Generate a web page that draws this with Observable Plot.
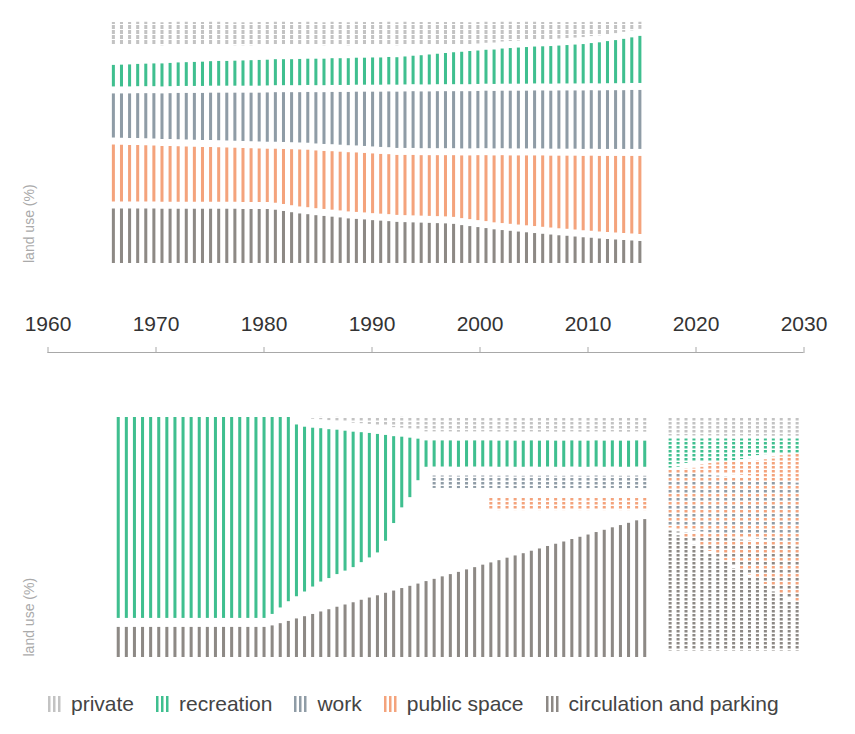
<!DOCTYPE html>
<html><head><meta charset="utf-8">
<script src="https://cdn.jsdelivr.net/npm/d3@7"></script>
<script src="https://cdn.jsdelivr.net/npm/@observablehq/plot@0.6"></script>
<style>
body{margin:0;background:#fff;font-family:"Liberation Sans",Arial,Helvetica,sans-serif;}
#chart{position:relative;width:855px;height:734px;overflow:hidden;}
.panel{position:absolute;left:0;}
.legend{position:absolute;left:48px;top:692px;display:flex;align-items:center;font-size:21px;color:#444;white-space:nowrap;}
.legend .item{display:flex;align-items:center;margin-right:22px;}
.legend svg{margin-right:10px;}
</style>
</head><body>
<div id="chart"></div>
<script>
// ---------- categories & ticks ----------
const PRIV = "private", REC = "recreation", WORK = "work", PUB = "public space", CIRC = "circulation and parking", OTHER = "other";
const legendCategories = [PRIV, REC, WORK, PUB, CIRC];
const palette = ["#c3c3c3", "#3fbf8f", "#8f9ca6", "#f4a37c", "#8d8985"];
const tickYears = [1960, 1970, 1980, 1990, 2000, 2010, 2020, 2030];
const yLabel = "land use (%)";

// ---------- top panel (land use %, one bar per survey) ----------
const topYears = [1966.10,1966.85,1967.60,1968.35,1969.10,1969.85,1970.60,1971.35,1972.10,1972.85,
1973.60,1974.35,1975.10,1975.85,1976.60,1977.35,1978.10,1978.85,1979.60,1980.35,
1981.10,1981.85,1982.60,1983.35,1984.10,1984.85,1985.60,1986.35,1987.10,1987.85,
1988.60,1989.35,1990.10,1990.85,1991.60,1992.35,1993.10,1993.85,1994.60,1995.35,
1996.10,1996.85,1997.60,1998.35,1999.10,1999.85,2000.60,2001.35,2002.10,2002.85,
2003.60,2004.35,2005.10,2005.85,2006.60,2007.35,2008.10,2008.85,2009.60,2010.35,
2011.10,2011.85,2012.60,2013.35,2014.10,2014.85];
const topPrivate = [12.1,12.1,12.1,12.1,12.1,12.1,12.1,12.1,12.1,12.1,
12.1,12.1,12.1,12.1,12.1,12.1,12.1,12.1,12.1,12.1,
12.1,12.1,12.1,12.1,12.1,12.1,12.1,12.1,12.1,12.1,
12.1,12.1,12.1,12.1,12.1,12.1,12.1,12.0,12.0,11.9,
11.9,11.8,11.7,11.7,11.6,11.5,11.3,11.1,10.8,10.6,
10.3,10.2,10.0,9.8,9.7,9.5,9.3,9.1,8.9,8.6,
8.2,7.7,7.3,6.8,6.2,5.7];
const topOther = [5.2,5.1,5.0,4.9,4.8,4.6,4.5,4.4,4.3,4.2,
4.0,3.9,3.8,3.7,3.6,3.4,3.3,3.2,3.2,3.1,
3.0,3.0,2.9,2.8,2.8,2.7,2.6,2.6,2.5,2.4,
2.4,2.3,2.2,2.2,2.1,2.0,1.9,1.6,1.4,1.2,
0.9,0.7,0.5,0.3,0,0,0,0,0,0,
0,0,0,0,0,0,0,0,0,0,
0,0,0,0,0,0];
const topRecreation = [11.5,11.6,11.7,11.8,11.9,12.0,12.1,12.2,12.3,12.4,
12.5,12.6,12.7,12.8,12.8,12.9,13.0,13.1,13.2,13.2,
13.3,13.3,13.3,13.4,13.4,13.5,13.5,13.6,13.6,13.6,
13.7,13.7,13.8,13.8,13.9,13.9,14.1,14.3,14.6,14.9,
15.1,15.4,15.7,15.9,16.2,16.3,16.5,16.7,17.0,17.2,
17.4,17.6,17.7,17.8,18.0,18.1,18.3,18.5,18.7,19.0,
19.4,19.8,20.2,20.7,21.2,21.8];
const topWork = [20.6,20.7,20.8,20.9,21.0,21.1,21.2,21.3,21.5,21.6,
21.7,21.8,21.9,22.0,22.1,22.2,22.3,22.4,22.5,22.7,
22.8,22.9,23.0,23.1,23.3,23.5,23.7,23.9,24.1,24.3,
24.5,24.7,24.9,25.1,25.3,25.5,25.6,25.7,25.7,25.7,
25.8,25.8,25.8,25.9,25.9,25.9,26.0,26.0,26.0,26.1,
26.1,26.1,26.2,26.2,26.2,26.3,26.3,26.3,26.4,26.4,
26.4,26.5,26.5,26.5,26.6,26.6];
const topPublic = [25.8,25.7,25.6,25.6,25.5,25.4,25.3,25.3,25.2,25.1,
25.0,24.9,24.9,24.8,24.7,24.6,24.6,24.5,24.4,24.3,
24.6,25.0,25.4,25.8,26.0,26.1,26.2,26.4,26.5,26.7,
26.8,26.8,26.9,26.9,27.0,27.0,27.1,27.2,27.2,27.3,
27.4,27.5,27.7,28.1,28.5,29.0,29.4,29.8,30.2,30.4,
30.7,31.0,31.3,31.6,31.8,32.1,32.3,32.6,32.8,33.1,
33.3,33.5,33.7,33.9,34.1,34.3];
const topCirculation = [24.8,24.8,24.8,24.8,24.8,24.8,24.7,24.7,24.7,24.7,
24.7,24.7,24.7,24.7,24.7,24.7,24.6,24.6,24.6,24.6,
24.3,23.8,23.3,22.8,22.5,22.1,21.8,21.5,21.2,20.8,
20.6,20.4,20.1,19.9,19.7,19.4,19.3,19.2,19.1,19.0,
18.9,18.8,18.6,18.1,17.7,17.3,16.9,16.4,16.1,15.8,
15.5,15.2,14.9,14.6,14.3,14.0,13.8,13.5,13.2,13.0,
12.7,12.5,12.3,12.1,11.9,11.7];

// ---------- bottom panel ----------
const bottomYears = [1966.55,1967.30,1968.05,1968.80,1969.55,1970.30,1971.05,1971.80,1972.55,1973.30,
1974.05,1974.80,1975.55,1976.30,1977.05,1977.80,1978.55,1979.30,1980.05,1980.80,
1981.55,1982.30,1983.05,1983.80,1984.55,1985.30,1986.05,1986.80,1987.55,1988.30,
1989.05,1989.80,1990.55,1991.30,1992.05,1992.80,1993.55,1994.30,1995.05,1995.80,
1996.55,1997.30,1998.05,1998.80,1999.55,2000.30,2001.05,2001.80,2002.55,2003.30,
2004.05,2004.80,2005.55,2006.30,2007.05,2007.80,2008.55,2009.30,2010.05,2010.80,
2011.55,2012.30,2013.05,2013.80,2014.55,2015.30];
const bottomPrivate = [0,0,0,0,0,0,0,0,0,0,
0,0,0,0,0,0,0,0,0,0,
0,0,3.0,3.9,4.3,4.6,4.9,5.2,5.5,5.8,
6.1,6.4,6.8,7.2,7.6,8.0,8.3,8.7,9.4,9.4,
9.4,9.4,9.4,9.4,9.4,9.4,9.4,9.4,9.4,9.4,
9.4,9.4,9.4,9.4,9.4,9.4,9.4,9.4,9.4,9.4,
9.4,9.4,9.4,9.4,9.4,9.4];
const bottomRecreation = [84.3,84.3,84.3,84.3,84.3,84.3,84.3,84.3,84.3,84.3,
84.3,84.3,84.3,84.3,84.3,84.3,84.3,84.3,84.3,82.7,
80.1,77.6,72.6,69.8,67.4,65.2,63.4,61.6,59.8,58.0,
55.8,53.6,51.2,46.1,38.5,32.0,27.5,20.3,14.2,14.1,
14.1,14.1,14.1,14.1,14.1,14.1,14.1,14.1,14.1,14.1,
14.1,14.1,14.1,14.1,14.1,14.1,14.1,14.1,14.1,14.1,
14.1,14.1,14.1,14.1,14.1,14.1];
const bottomWork = [0,0,0,0,0,0,0,0,0,0,
0,0,0,0,0,0,0,0,0,0,
0,0,0,0,0,0,0,0,0,0,
0,0,0,0,0,0,0,0,0,8.6,
8.6,8.6,8.6,8.6,8.6,8.6,8.6,8.6,8.6,8.6,
8.6,8.6,8.6,8.6,8.6,8.6,8.6,8.6,8.6,8.6,
8.6,8.6,8.6,8.6,8.6,8.6];
const bottomPublic = [0,0,0,0,0,0,0,0,0,0,
0,0,0,0,0,0,0,0,0,0,
0,0,0,0,0,0,0,0,0,0,
0,0,0,0,0,0,0,0,0,0,
0,0,0,0,0,0,8.8,8.8,8.8,8.8,
8.8,8.8,8.8,8.8,8.8,8.8,8.8,8.8,8.8,8.8,
8.8,8.8,8.8,8.8,8.8,8.8];
const bottomOther = [0,0,0,0,0,0,0,0,0,0,
0,0,0,0,0,0,0,0,0,1.0,
2.7,4.3,5.3,6.3,7.4,8.4,8.9,9.5,10.0,10.5,
11.5,12.5,13.6,17.3,23.5,28.8,32.0,37.9,42.3,32.9,
31.9,31.0,30.0,29.1,28.2,27.2,17.5,16.5,15.6,14.6,
13.7,12.8,11.8,10.9,9.9,9.0,8.1,7.1,6.2,5.3,
4.3,3.4,2.4,1.5,0.6,0];
const bottomCirculation = [15.7,15.7,15.7,15.7,15.7,15.7,15.7,15.7,15.7,15.7,
15.7,15.7,15.7,15.7,15.7,15.7,15.7,15.7,15.7,16.3,
17.2,18.1,19.1,20.0,20.9,21.9,22.8,23.8,24.7,25.6,
26.6,27.5,28.4,29.4,30.3,31.3,32.2,33.1,34.1,35.0,
36.0,36.9,37.8,38.8,39.7,40.7,41.6,42.5,43.5,44.4,
45.3,46.3,47.2,48.2,49.1,50.0,51.0,51.9,52.8,53.8,
54.7,55.7,56.6,57.5,58.5,59.0];

// ---------- projection 2018-2030 (two overlaid scenarios, dotted) ----------
const projYears = [2017.65,2018.385,2019.12,2019.855,2020.59,2021.325,2022.06,2022.795,2023.53,2024.265,2025.00,2025.735,2026.47,2027.205,2027.94,2028.675,2029.41];
const projPrivate = [8.9,8.9,8.9,8.9,8.9,8.9,8.9,8.9,8.9,8.9,8.9,8.9,8.9,8.9,8.9,8.9,8.9];
const projARecreation = [13.6,13.2,12.8,12.4,12.0,11.6,11.2,10.8,10.4,10.0,9.6,9.2,8.8,8.4,8.0,7.6,7.2];
const projAPublic = [0.4,1.1,1.8,2.5,3.2,3.8,4.5,5.2,5.9,6.6,7.3,8.0,8.7,9.3,10.0,10.7,11.4];
const projAWork = [25.0,25.1,25.3,25.4,25.5,25.7,25.8,25.9,26.0,26.2,26.3,26.4,26.6,26.7,26.8,27.0,27.1];
const projACirculation = [52.1,51.7,51.3,50.8,50.4,50.0,49.6,49.1,48.7,48.3,47.9,47.4,47.0,46.6,46.2,45.7,45.3];
const projBRecreation = [12.3,11.9,11.6,11.2,10.8,10.5,10.1,9.7,9.3,9.0,8.6,8.2,7.9,7.5,7.1,6.8,6.4];
const projBPublic = [26.7,29.1,31.4,33.8,36.1,38.5,40.8,43.2,45.5,47.9,50.3,52.6,55.0,57.3,59.7,62.0,64.4];
const projBCirculation = [52.1,50.1,48.1,46.1,44.2,42.2,40.2,38.2,36.2,34.2,32.2,30.2,28.2,26.3,24.3,22.3,20.3];

// ---------- build ----------
const FONT = "Liberation Sans, Arial, Helvetica, sans-serif";
const colorOf = Object.fromEntries(legendCategories.map((c, i) => [c, palette[i]]));

const defs = d3.select("body").insert("svg", ":first-child")
  .attr("width", 0).attr("height", 0).style("position", "absolute").append("defs");
function stripe(id, color, period, on, offset) {
  const p = defs.append("pattern").attr("id", id).attr("patternUnits", "userSpaceOnUse")
    .attr("x", 0).attr("y", offset).attr("width", 20).attr("height", period);
  p.append("rect").attr("width", 20).attr("height", on).attr("fill", color);
}
stripe("top-priv", colorOf[PRIV], 5, 4, 0);
stripe("bot-priv", colorOf[PRIV], 4, 2.5, 0);
stripe("bot-work", colorOf[WORK], 4, 2.5, 0);
stripe("bot-pub", colorOf[PUB], 4, 2.5, 0);
legendCategories.forEach((c, i) => { stripe("pa" + i, palette[i], 8, 2.5, 0); stripe("pb" + i, palette[i], 8, 2.5, 4); });

function rowsFrom(years, series) {
  const rows = [];
  for (const [cat, vals] of series) years.forEach((t, i) => rows.push({t, cat, v: vals[i]}));
  return rows;
}
const HALF = 0.14;
function bars(rows, fillOf, inset) {
  return Plot.rectY(rows, Plot.stackY({
    x1: d => d.t - HALF, x2: d => d.t + HALF,
    y: "v", z: "cat", fill: d => fillOf[d.cat],
    insetTop: inset, insetBottom: inset
  }));
}
const common = {
  width: 855, marginLeft: 47.5, marginRight: 51.5,
  x: {domain: [1960, 2030], axis: null},
  y: {domain: [0, 100], axis: null},
  color: {type: "identity"},
  style: {fontFamily: FONT, background: "transparent", overflow: "visible"}
};
function label(dy) {
  return Plot.text([yLabel], {text: d => d, frameAnchor: "bottom-left", rotate: -90, textAnchor: "start",
    dx: -14.5, dy, fontSize: 14, fill: "#aaa", fontFamily: FONT});
}
const chart = d3.select("#chart");
function place(node, top) { node.classList.add("panel"); node.style.top = top + "px"; chart.node().appendChild(node); }

// top
const topRows = rowsFrom(topYears, [[CIRC, topCirculation], [PUB, topPublic], [WORK, topWork], [REC, topRecreation], [OTHER, topOther], [PRIV, topPrivate]]);
const topFill = {[PRIV]: "url(#top-priv)", [REC]: colorOf[REC], [WORK]: colorOf[WORK], [PUB]: colorOf[PUB], [CIRC]: colorOf[CIRC], [OTHER]: "none"};
place(Plot.plot({...common, height: 280, marginTop: 18.5, marginBottom: 13.5,
  marks: [bars(topRows, topFill, 3.5), label(-4)]}), 0);

// axis
place(Plot.plot({...common, height: 90, marginTop: 72, marginBottom: 18,
  y: {domain: [0, 1], axis: null},
  marks: [
    Plot.ruleY([1], {stroke: "#a8a8a8", strokeWidth: 1.2}),
    Plot.axisX({anchor: "top", ticks: tickYears, tickFormat: d => String(d), tickSize: 6, tickPadding: 16,
      fontSize: 21, stroke: "#a8a8a8", fill: "#333", fontFamily: FONT})
  ]}), 280);

// bottom
const botRows = rowsFrom(bottomYears, [[CIRC, bottomCirculation], [OTHER, bottomOther], [PUB, bottomPublic], [WORK, bottomWork], [REC, bottomRecreation], [PRIV, bottomPrivate]]);
const botFill = {[PRIV]: "url(#bot-priv)", [REC]: colorOf[REC], [WORK]: "url(#bot-work)", [PUB]: "url(#bot-pub)", [CIRC]: colorOf[CIRC], [OTHER]: "none"};
place(Plot.plot({...common, height: 300, marginTop: 42.5, marginBottom: 8.5,
  marks: [bars(botRows, botFill, 4.5), label(-5.5)]}), 370);

// projection
const projARows = rowsFrom(projYears, [[CIRC, projACirculation], [WORK, projAWork], [PUB, projAPublic], [REC, projARecreation], [PRIV, projPrivate]]);
const projBRows = rowsFrom(projYears, [[CIRC, projBCirculation], [PUB, projBPublic], [REC, projBRecreation], [PRIV, projPrivate]]);
const fillA = Object.fromEntries(legendCategories.map((c, i) => [c, `url(#pa${i})`]));
const fillB = Object.fromEntries(legendCategories.map((c, i) => [c, `url(#pb${i})`]));
place(Plot.plot({...common, height: 300, marginTop: 46, marginBottom: 18,
  marks: [bars(projARows, fillA, 1.5), bars(projBRows, fillB, 1.5)]}), 370);

// legend
const legend = chart.append("div").attr("class", "legend");
legendCategories.forEach((c, i) => {
  const item = legend.append("div").attr("class", "item");
  const g = item.append("svg").attr("width", 13).attr("height", 16);
  [0, 5, 10].forEach(x => g.append("rect").attr("x", x).attr("width", 2.5).attr("height", 16).attr("fill", palette[i]));
  item.append("span").text(c);
});
</script>
</body></html>
